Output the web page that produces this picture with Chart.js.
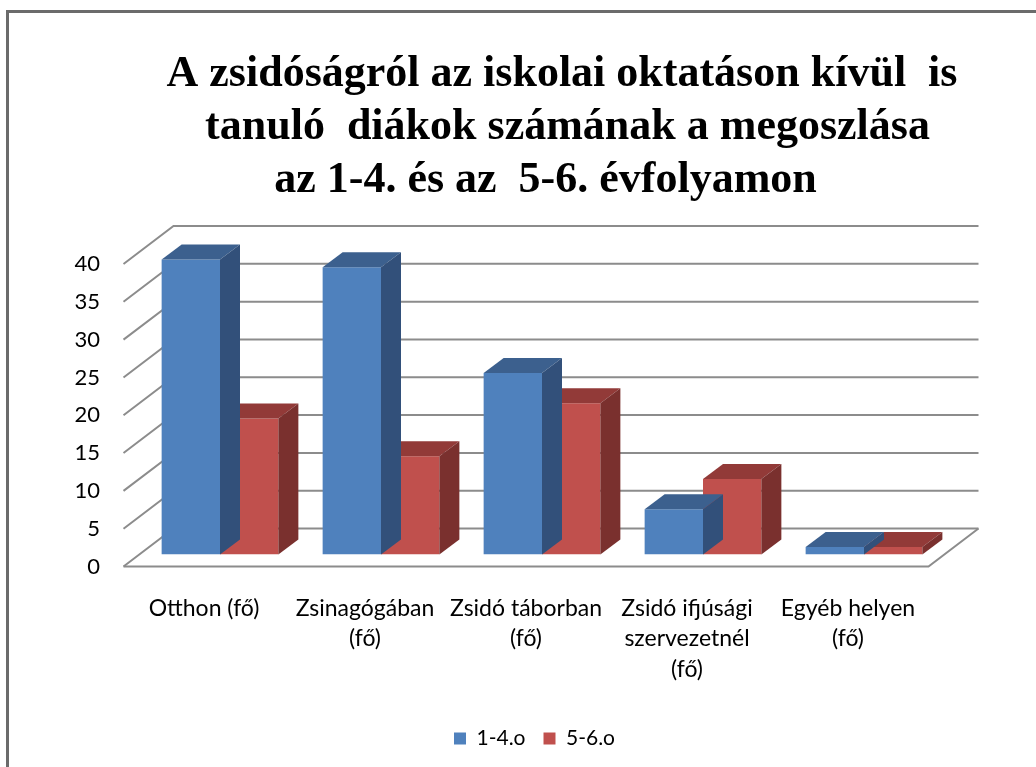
<!DOCTYPE html>
<html>
<head>
<meta charset="utf-8">
<script src="https://cdn.jsdelivr.net/npm/chart.js@4.4.0/dist/chart.umd.min.js"></script>
<style>
  html, body { margin: 0; padding: 0; background: #fff; overflow: hidden; }
  #frame { position: absolute; left: 6px; top: 10px; width: 1100px; height: 800px;
           border-left: 3px solid #6b6b6b; border-top: 3px solid #6b6b6b; }
  #wrap { position: absolute; left: 0; top: 0; width: 1036px; height: 767px; }
</style>
</head>
<body>
<div id="frame"></div>
<div id="wrap"><canvas id="myChart" width="1036" height="767"></canvas></div>
<script>
// leading spaces nudge each centred title line to where it sits in the original
let titleLines = ["     A zsidóságról az iskolai oktatáson kívül  is", "      tanuló  diákok számának a megoszlása", "  az 1-4. és az  5-6. évfolyamon"];
let categories = [["Otthon (fő)"], ["Zsinagógában", "(fő)"], ["Zsidó táborban", "(fő)"], ["Zsidó ifjúsági", "szervezetnél", "(fő)"], ["Egyéb helyen", "(fő)"]];
let seriesNames = ["1-4.o", "5-6.o"];
let grade14 = [39, 38, 24, 6, 1];
let grade56 = [18, 13, 20, 10, 1];
let yTicks = [0, 5, 10, 15, 20, 25, 30, 35, 40];

// front / top / side colours of the 3d columns
let faceColors = [
  ['#4f81bd', '#3c608e', '#32507a'],
  ['#c0504d', '#923a38', '#7a302e']
];

const DX = 20, DY = 15;          // column depth
const FRONT = { x: -16, y: 12 }; // floor front edge, relative to the column plane
const BACK = { x: 34, y: -26 };  // back wall, relative to the column plane

let box3d = {
  id: 'box3d',
  beforeDatasetsDraw(chart) {
    let c = chart.ctx, a = chart.chartArea, ys = chart.scales.y;
    c.save();
    c.strokeStyle = '#8c8c8c';
    c.lineWidth = 2;
    let b = ys.getPixelForValue(0);
    c.beginPath();
    c.moveTo(a.left + FRONT.x, b + FRONT.y);
    c.lineTo(a.right + FRONT.x, b + FRONT.y);
    c.lineTo(a.right + BACK.x, b + BACK.y);
    c.stroke();
    ys.ticks.forEach(t => {
      let p = ys.getPixelForValue(t.value);
      c.beginPath();
      c.moveTo(a.left + FRONT.x, p + FRONT.y);
      c.lineTo(a.left + BACK.x, p + BACK.y);
      c.lineTo(a.right + BACK.x, p + BACK.y);
      c.stroke();
    });
    c.restore();
  },
  afterDatasetDraw(chart, args) {
    let c = chart.ctx, col = faceColors[args.index];
    c.save();
    args.meta.data.forEach(bar => {
      let p = bar.getProps(['x', 'y', 'base', 'width'], true);
      let l = p.x - p.width / 2, r = p.x + p.width / 2;
      c.fillStyle = col[1];
      c.beginPath();
      c.moveTo(l, p.y); c.lineTo(r, p.y); c.lineTo(r + DX, p.y - DY); c.lineTo(l + DX, p.y - DY);
      c.closePath(); c.fill();
      c.fillStyle = col[2];
      c.beginPath();
      c.moveTo(r, p.y); c.lineTo(r + DX, p.y - DY); c.lineTo(r + DX, p.base - DY); c.lineTo(r, p.base);
      c.closePath(); c.fill();
    });
    c.restore();
  }
};

let ctx = document.getElementById("myChart");
let myChart = new Chart(ctx, {
  type: 'bar',
  data: {
    labels: categories,
    datasets: [
      { label: seriesNames[0], data: grade14, backgroundColor: faceColors[0][0] },
      { label: seriesNames[1], data: grade56, backgroundColor: faceColors[1][0] }
    ]
  },
  options: {
    responsive: false,
    animation: false,
    layout: { padding: { left: 33, right: 0, top: 0, bottom: 8 } },
    datasets: { bar: { barPercentage: 1, categoryPercentage: 0.725 } },
    scales: {
      x: {
        grid: { display: false, drawTicks: false },
        border: { display: false },
        ticks: { color: '#000', font: { family: 'Lato', size: 23, lineHeight: 1.32 }, padding: 39, labelOffset: -16, maxRotation: 0, autoSkip: false },
        afterFit(s) { s.height = 155.5; }
      },
      y: {
        min: 0, max: 40,
        grid: { display: false, drawTicks: false },
        border: { display: false },
        ticks: { color: '#000', font: { family: 'Lato', size: 22 }, padding: 39.5, labelOffset: 12 },
        afterBuildTicks(s) { s.ticks = yTicks.map(v => ({ value: v })); },
        afterFit(s) { s.width = 106.5; }
      },
      yRight: {
        position: 'right',
        grid: { display: false },
        border: { display: false },
        ticks: { display: false },
        afterFit(s) { s.width = 91.5; }
      }
    },
    plugins: {
      title: {
        display: true,
        text: titleLines,
        color: '#000',
        font: { family: '"Liberation Serif"', size: 44, weight: 'bold', lineHeight: 53 / 44 },
        padding: { top: 48.5, bottom: 44.5 }
      },
      legend: {
        position: 'bottom',
        labels: { boxWidth: 12, boxHeight: 12, padding: 18, color: '#000', font: { family: 'Lato', size: 21 } }
      },
      tooltip: { enabled: false }
    }
  },
  plugins: [box3d]
});
</script>
</body>
</html>
